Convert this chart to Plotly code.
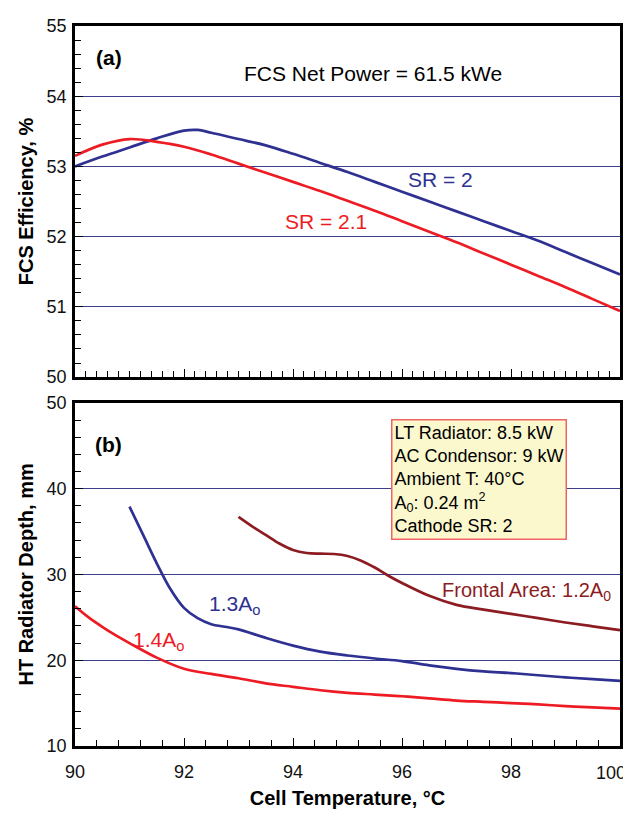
import plotly.graph_objects as go
from plotly.subplots import make_subplots

# ---- Data ----
temp_a = [90, 90.5, 91, 91.5, 92, 92.25, 92.5, 93, 93.5, 94, 94.5, 95, 95.5, 96, 96.5, 97, 97.5, 98, 98.5, 99, 99.5, 100]
eff_sr2 = [53.0, 53.14, 53.27, 53.40, 53.51, 53.52, 53.48, 53.39, 53.30, 53.18, 53.05, 52.92, 52.78, 52.64, 52.50, 52.36, 52.22, 52.08, 51.94, 51.78, 51.62, 51.46]

temp_a2 = [90, 90.5, 91, 91.5, 92, 92.5, 93, 93.5, 94, 94.5, 95, 95.5, 96, 96.5, 97, 97.5, 98, 98.5, 99, 99.5, 100]
eff_sr21 = [53.15, 53.31, 53.39, 53.35, 53.28, 53.17, 53.04, 52.91, 52.78, 52.65, 52.51, 52.37, 52.22, 52.07, 51.92, 51.76, 51.60, 51.44, 51.28, 51.11, 50.94]

temp_13 = [91, 91.25, 91.5, 91.75, 92, 92.25, 92.5, 92.75, 93, 93.5, 94, 94.5, 95, 95.5, 96, 96.5, 97, 97.5, 98, 98.5, 99, 99.5, 100]
depth_13 = [37.9, 34.6, 31.3, 28.3, 26.1, 24.9, 24.2, 23.9, 23.6, 22.6, 21.7, 21.0, 20.55, 20.2, 19.9, 19.4, 19.0, 18.7, 18.5, 18.25, 18.0, 17.8, 17.6]

temp_14 = [90, 90.25, 90.5, 90.75, 91, 91.5, 92, 92.5, 93, 93.5, 94, 94.5, 95, 95.5, 96, 96.5, 97, 97.5, 98, 98.5, 99, 99.5, 100]
depth_14 = [26.3, 25.0, 23.9, 22.9, 22.0, 20.3, 19.0, 18.4, 17.9, 17.3, 16.9, 16.5, 16.2, 16.0, 15.8, 15.55, 15.3, 15.15, 15.0, 14.85, 14.65, 14.5, 14.35]

temp_12 = [93, 93.25, 93.5, 93.75, 94, 94.25, 94.5, 94.75, 95, 95.25, 95.5, 95.75, 96, 96.5, 97, 97.5, 98, 98.5, 99, 99.5, 100]
depth_12 = [36.7, 35.6, 34.6, 33.6, 32.85, 32.5, 32.42, 32.38, 32.15, 31.6, 30.8, 29.85, 29.0, 27.5, 26.45, 25.9, 25.4, 24.9, 24.4, 23.95, 23.5]

x_ticks = [90, 92, 94, 96, 98, 100]
x_ticktext = ["90", "92", "94", "96", "98", ""]   # "100" is drawn as an annotation so it is not clipped
last_tick_label = "100"

NAVY = "#2E3192"
RED = "#ED1C24"
DARKRED = "#8C1C22"
GRID = "#3B3F8C"
FONT = "Liberation Sans, Arial, sans-serif"

fig = make_subplots(rows=2, cols=1, shared_xaxes=False, vertical_spacing=0.0)

fig.add_trace(go.Scatter(x=temp_a, y=eff_sr2, mode="lines", line=dict(color=NAVY, width=2.7, shape="spline"), showlegend=False), row=1, col=1)
fig.add_trace(go.Scatter(x=temp_a2, y=eff_sr21, mode="lines", line=dict(color=RED, width=2.7, shape="spline"), showlegend=False), row=1, col=1)
fig.add_trace(go.Scatter(x=temp_13, y=depth_13, mode="lines", line=dict(color=NAVY, width=2.7, shape="spline"), showlegend=False), row=2, col=1)
fig.add_trace(go.Scatter(x=temp_14, y=depth_14, mode="lines", line=dict(color=RED, width=2.7, shape="spline"), showlegend=False), row=2, col=1)
fig.add_trace(go.Scatter(x=temp_12, y=depth_12, mode="lines", line=dict(color=DARKRED, width=2.7, shape="spline"), showlegend=False), row=2, col=1)

axis_common = dict(showline=True, linecolor="black", linewidth=2.5, mirror=True,
                   ticks="inside", tickcolor="black", ticklen=8, tickwidth=1.2,
                   tickfont=dict(family=FONT, size=18, color="#111111"), zeroline=False)
minor_common = dict(ticks="inside", ticklen=6, tickcolor="black", tickwidth=1, showgrid=False)
title_font = dict(family=FONT, size=20, color="black")

fig.update_xaxes(range=[90, 100], tickvals=x_ticks, showgrid=False, showticklabels=False,
                 minor=dict(dtick=0.2, **minor_common),
                 **axis_common, row=1, col=1)
fig.update_xaxes(range=[90, 100], tickvals=x_ticks, ticktext=x_ticktext, showgrid=False, ticklabelstandoff=8,
                 minor=dict(dtick=0.4, tick0=90, **minor_common),
                 title=dict(text="<b>Cell Temperature, °C</b>", font=title_font, standoff=10),
                 **axis_common, row=2, col=1)
fig.update_yaxes(range=[50, 55], dtick=1, showgrid=True, gridcolor=GRID, gridwidth=1, ticklabelstandoff=2,
                 minor=dict(dtick=0.2, **minor_common),
                 title=dict(text="<b>FCS Efficiency, %</b>", font=title_font, standoff=8),
                 **axis_common, row=1, col=1)
fig.update_yaxes(range=[10, 50], dtick=10, showgrid=True, gridcolor=GRID, gridwidth=1, ticklabelstandoff=2,
                 minor=dict(dtick=2, **minor_common),
                 title=dict(text="<b>HT Radiator Depth, mm</b>", font=title_font, standoff=8),
                 **axis_common, row=2, col=1)

# the page body adds an 8px offset, so the figure is sized and margined to compensate
fig.update_layout(
    width=623, height=809,
    margin=dict(l=67, r=8, t=12, b=71),
    paper_bgcolor="white", plot_bgcolor="white",
    font=dict(family=FONT, size=18, color="black"),
    yaxis=dict(domain=[0.5124, 1.0]),
    yaxis2=dict(domain=[0.0, 0.4766]),
)

ann = []
def a(text, x, y, xref, yref, color="black", size=21, **kw):
    ann.append(dict(text=text, x=x, y=y, xref=xref, yref=yref, showarrow=False,
                    font=dict(family=FONT, size=size, color=color), **kw))

a("<b>(a)</b>", 90.62, 54.55, "x", "y", size=21)
a("FCS Net Power = 61.5 kWe", 95.46, 54.32, "x", "y")
a("SR = 2", 96.70, 52.815, "x", "y", color=NAVY)
a("SR = 2.1", 94.61, 52.21, "x", "y", color=RED)
a("<b>(b)</b>", 90.62, 45.1, "x2", "y2", size=21)
a("1.3A<sub>o</sub>", 92.93, 26.4, "x2", "y2", color=NAVY)
a("1.4A<sub>o</sub>", 91.53, 22.25, "x2", "y2", color=RED)
a("Frontal Area: 1.2A<sub>0</sub>", 99.88, 28.0, "x2", "y2", color=DARKRED, size=20, xanchor="right")
a("LT Radiator: 8.5 kW<br>AC Condensor: 9 kW<br>Ambient T: 40°C<br>A<sub>0</sub>: 0.24 m<sup>2</sup><br>Cathode SR: 2",
  95.79, 48.15, "x2", "y2", size=18, xanchor="left", yanchor="top", align="left",
  bgcolor="#FCF8CE", bordercolor="#F06464", borderwidth=1.5, borderpad=2)
# last x tick label, placed like in the reference (slightly inside the right edge)
ann.append(dict(text=last_tick_label, x=1, y=0, xref="paper", yref="paper", yanchor="top", xanchor="right",
                xshift=8, yshift=-15, showarrow=False, font=dict(family=FONT, size=18, color="#111111")))

fig.update_layout(annotations=ann)
fig.write_html("out.html")
